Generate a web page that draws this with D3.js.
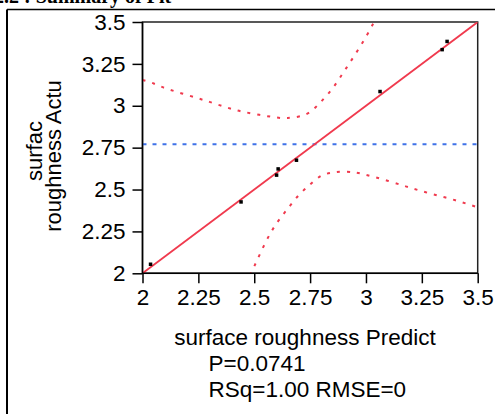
<!DOCTYPE html>
<meta charset="utf-8">
<style>
body { margin: 0; background: #fff; }
svg { display: block; }
text { font-family: "Liberation Sans", Arial, sans-serif; fill: #000; }
.axis text { font-size: 22.5px; font-family: "Liberation Sans", Arial, sans-serif; }
.axis path, .axis line { stroke: #000; stroke-width: 1.5px; }
.fit { stroke: #f03a4e; stroke-width: 1.8px; fill: none; }
.conf { stroke: #f03a4e; stroke-width: 2px; fill: none; stroke-dasharray: 3,7; }
.mean { stroke: #3f72e8; stroke-width: 2px; stroke-dasharray: 4,6; }
</style>

<svg width="495" height="414"></svg>
<script src="https://cdn.jsdelivr.net/npm/d3@7"></script>

<script>

// measured points (predicted, actual)
var predicted = [2.036, 2.441, 2.600, 2.607, 2.689, 3.063, 3.341, 3.363];
var actual    = [2.054, 2.426, 2.586, 2.623, 2.675, 3.085, 3.335, 3.384];

var tickValues = [2, 2.25, 2.5, 2.75, 3, 3.25, 3.5];
var meanActual = 2.771;

// confidence curves
var upperX = [2.0, 2.05, 2.1, 2.2, 2.3, 2.4, 2.5, 2.6, 2.65, 2.7, 2.75, 2.8, 2.85, 2.9, 2.95, 3.0, 3.04];
var upperY = [3.154, 3.133, 3.106, 3.064, 3.023, 2.981, 2.951, 2.930, 2.927, 2.936, 2.963, 3.026, 3.103, 3.201, 3.303, 3.412, 3.51];
var lowerX = [2.48, 2.5, 2.55, 2.6, 2.65, 2.7, 2.75, 2.8, 2.85, 2.9, 2.95, 3.0, 3.1, 3.2, 3.3, 3.4, 3.5];
var lowerY = [1.99, 2.041, 2.183, 2.298, 2.386, 2.467, 2.530, 2.582, 2.601, 2.607, 2.602, 2.588, 2.551, 2.510, 2.472, 2.436, 2.394];

var svg = d3.select("svg"),
    margin = {left: 142.5, top: 22, right: 17.3, bottom: 140.7},
    width = +svg.attr("width") - margin.left - margin.right,
    height = +svg.attr("height") - margin.top - margin.bottom;

// outer frame of the report
svg.append("line").attr("x1", 7).attr("x2", 7).attr("y1", 9.5).attr("y2", 414)
    .attr("stroke", "#000").attr("stroke-width", 2);
svg.append("line").attr("x1", 7).attr("x2", 495).attr("y1", 9.5).attr("y2", 9.5)
    .attr("stroke", "#000").attr("stroke-width", 1.5);

// title cut off above
svg.append("text")
    .attr("x", -6).attr("y", 3)
    .style("font-family", "'Liberation Serif', serif")
    .style("font-weight", "bold")
    .style("font-size", "20px")
    .text("2.2 : Summary of Fit");

var x = d3.scaleLinear().domain([2, 3.5]).range([0, width]);
var y = d3.scaleLinear().domain([2, 3.5]).range([height, 0]);

var g = svg.append("g")
    .attr("transform", "translate(" + margin.left + "," + margin.top + ")");

g.append("clipPath").attr("id", "clip")
  .append("rect").attr("width", width).attr("height", height);

g.append("rect")
    .attr("width", width).attr("height", height)
    .attr("fill", "none").attr("stroke", "#222").attr("stroke-width", 1.5);

var plot = g.append("g").attr("clip-path", "url(#clip)");

plot.append("line")
    .attr("class", "mean")
    .attr("x1", 0).attr("x2", width)
    .attr("y1", y(meanActual)).attr("y2", y(meanActual));

var curve = d3.line()
    .x(function(d) { return x(d[0]); })
    .y(function(d) { return y(d[1]); })
    .curve(d3.curveNatural);

plot.append("path").attr("class", "conf")
    .attr("d", curve(d3.zip(upperX, upperY)));
plot.append("path").attr("class", "conf")
    .attr("d", curve(d3.zip(lowerX, lowerY)));

plot.append("line").attr("class", "fit")
    .attr("x1", x(2)).attr("y1", y(2))
    .attr("x2", x(3.5)).attr("y2", y(3.5));

plot.selectAll("rect.pt")
    .data(d3.zip(predicted, actual))
  .enter().append("rect")
    .attr("class", "pt")
    .attr("x", function(d) { return x(d[0]) - 1.75; })
    .attr("y", function(d) { return y(d[1]) - 1.75; })
    .attr("width", 3.5).attr("height", 3.5)
    .attr("fill", "#000");

var xAxis = g.append("g")
    .attr("class", "axis")
    .attr("transform", "translate(0," + height + ")")
    .call(d3.axisBottom(x).tickValues(tickValues).tickSize(10).tickPadding(6)
        .tickFormat(function(d) { return d; }));

var yAxis = g.append("g")
    .attr("class", "axis")
    .call(d3.axisLeft(y).tickValues(tickValues).tickSize(10).tickPadding(7)
        .tickFormat(function(d) { return d; }));

xAxis.select(".domain").remove();
yAxis.select(".domain").remove();
g.append("line").attr("x1", 0).attr("x2", 0).attr("y1", 0).attr("y2", height)
    .attr("stroke", "#000").attr("stroke-width", 1.5);
g.append("line").attr("x1", 0).attr("x2", width).attr("y1", height).attr("y2", height)
    .attr("stroke", "#000").attr("stroke-width", 1.5);

// axis titles
svg.append("text")
    .attr("transform", "translate(42,151) rotate(-90)")
    .attr("text-anchor", "middle")
    .style("font-size", "22px")
    .text("surfac");
svg.append("text")
    .attr("transform", "translate(61,156) rotate(-90)")
    .attr("text-anchor", "middle")
    .style("font-size", "22px")
    .text("roughness Actu");

svg.append("text")
    .attr("x", 305).attr("y", 345)
    .attr("text-anchor", "middle")
    .style("font-size", "22.5px")
    .text("surface roughness Predict");
svg.append("text")
    .attr("x", 208.5).attr("y", 371)
    .style("font-size", "22.5px")
    .text("P=0.0741");
svg.append("text")
    .attr("x", 208.5).attr("y", 397)
    .style("font-size", "22.5px")
    .text("RSq=1.00 RMSE=0");

</script>
